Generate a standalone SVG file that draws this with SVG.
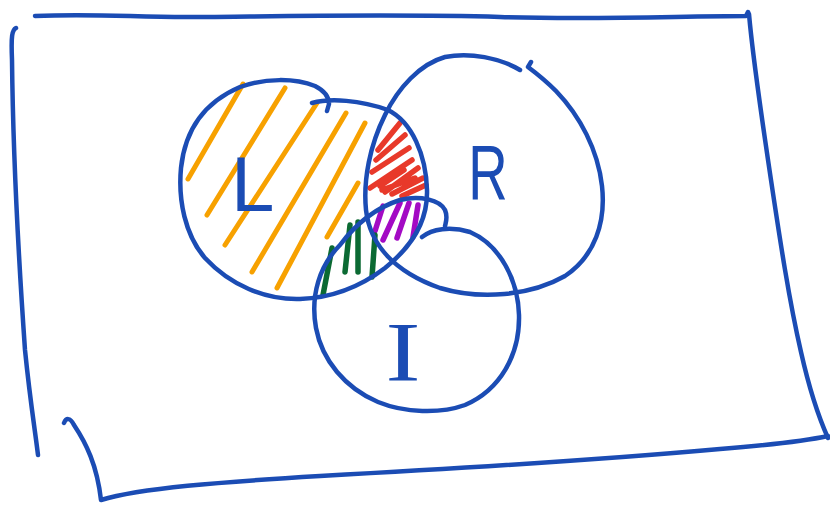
<svg xmlns="http://www.w3.org/2000/svg" width="830" height="507" viewBox="0 0 830 507">
<style>
.ink{fill:none;stroke:#1b4cb4;stroke-width:4.5;stroke-linecap:round;stroke-linejoin:round}
.or{fill:none;stroke:#f7a100;stroke-width:5;stroke-linecap:round}
.rd{fill:none;stroke:#e8392a;stroke-width:5.5;stroke-linecap:round;stroke-linejoin:round}
.pu{fill:none;stroke:#a30ac4;stroke-width:5.5;stroke-linecap:round}
.gr{fill:none;stroke:#0b6a33;stroke-width:5.5;stroke-linecap:round}
.lbl{fill:#1b4cb4;font-family:"Liberation Sans",Arial,sans-serif}
</style>
<rect width="830" height="507" fill="#ffffff"/>
<g id="frame">
<path class="ink" d="M35,16 C100,13 140,18 200,17 C300,16 400,14 500,17 C600,20 680,16 746,16 L748,12"/>
<path class="ink" d="M749,14 C753,60 762,120 771,180 C780,240 789,300 801,352 C810,392 819,418 828,438"/>
<path class="ink" d="M64,423 C66,418 70,417 74,425 C86,443 97,465 101,500 C140,488 220,482 320,476 C470,468 620,458 720,449 C770,445 805,441 828,436"/>
<path class="ink" d="M16,28 C12,30 11,36 12,60 C13,150 18,250 25,350 C30,400 35,430 38,455"/>
</g>
<g id="hatch-L">
<path class="or" d="M188,179 L243,84"/>
<path class="or" d="M207,215 L285,88"/>
<path class="or" d="M225,245 L317,103"/>
<path class="or" d="M252,272 L346,113"/>
<path class="or" d="M277,288 L365,123"/>
<path class="or" d="M327,237 L358,183"/>
</g>
<g id="hatch-LR">
<path class="rd" d="M400,123 L378,150 M405,135 L376,160 M409,148 L372,172 M412,160 L370,188 M404,170 L380,186 M418,168 L385,192 M423,178 L392,194 M426,185 L402,196 M415,178 L382,190"/>
</g>
<g id="hatch-LRI">
<path class="pu" d="M383,206 L375,231 M400,203 L383,240 M409,203 L397,238 M418,205 L413,237"/>
</g>
<g id="hatch-LI">
<path class="gr" d="M332,248 L323,295 M350,225 L345,272 M358,222 L358,272 M375,235 L372,277"/>
</g>
<g id="circle-L">
<path class="ink" d="M312,103 C330,98 360,100 388,110 C412,122 426,155 427,190 C428,222 410,248 385,268 C360,287 330,298 300,299 C265,300 230,285 205,258 C185,235 178,200 181,168 C185,130 205,102 240,87 C265,78 295,78 315,86 C325,91 329,98 329,104 L327,111"/>
</g>
<g id="circle-R">
<path class="ink" d="M520,70 C500,58 470,52 445,57 C420,64 398,88 385,115 C370,145 363,180 366,210 C370,245 395,272 440,288 C480,300 530,296 565,276 C595,256 606,222 602,186 C598,150 580,116 556,91 C546,81 536,73 528,67 L531,62"/>
</g>
<g id="circle-I">
<path class="ink" d="M422,237 C432,229 450,226 470,232 C500,245 518,280 519,315 C520,355 500,390 465,405 C440,414 405,413 378,402 C345,388 322,360 316,328 C310,295 320,265 340,245 C355,225 375,208 400,200 C420,195 440,200 445,210 C448,217 446,222 445,226"/>
</g>
<g id="labels">
<text class="lbl" x="231" y="211" font-size="78">L</text>
<text class="lbl" x="488" y="199" font-size="78" text-anchor="middle" transform="translate(488,0) scale(0.7,1) translate(-488,0)">R</text>
<text x="403" y="381" font-size="84" text-anchor="middle" fill="#1b4cb4" font-family="'Liberation Serif',serif" transform="translate(403,0) scale(1.25,1) translate(-403,0)">I</text>
</g>
</svg>
